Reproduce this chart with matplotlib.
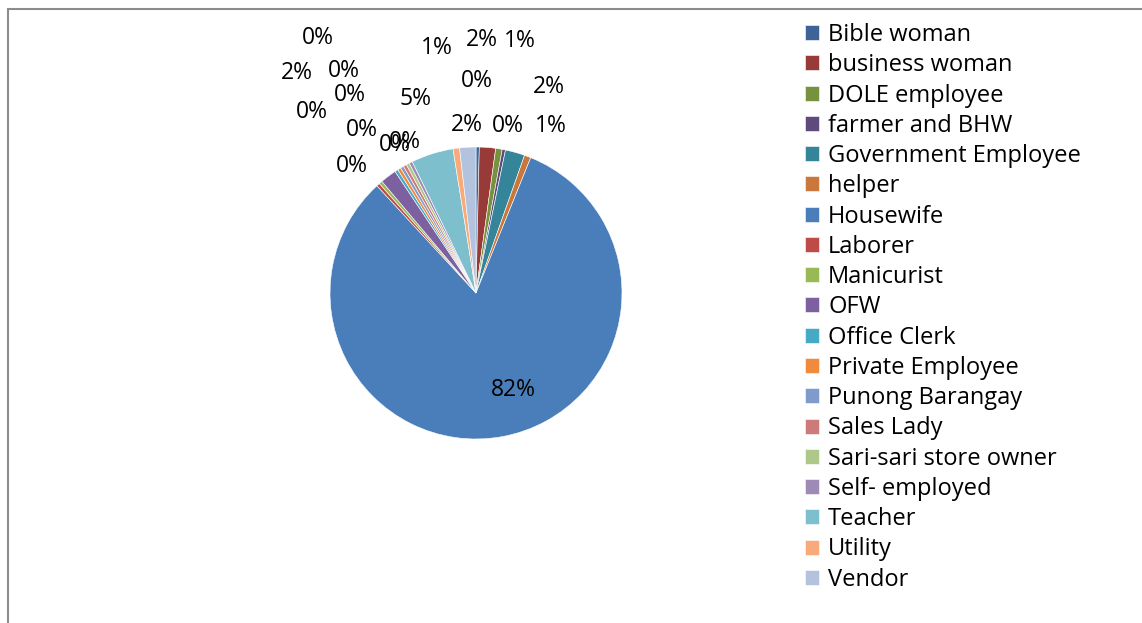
import matplotlib.pyplot as plt
from matplotlib.patches import Rectangle

# occupation counts
occupations = [
    "Bible woman", "business woman", "DOLE employee", "farmer and BHW",
    "Government Employee", "helper", "Housewife", "Laborer", "Manicurist",
    "OFW", "Office Clerk", "Private Employee", "Punong Barangay",
    "Sales Lady", "Sari-sari store owner", "Self- employed", "Teacher",
    "Utility", "Vendor",
]
counts = [1, 5, 2, 1, 6, 2, 228, 1, 1, 5, 1, 1, 1, 1, 1, 1, 13, 2, 5]

colors = [
    "#3E6497", "#983A38", "#77923F", "#5F4A7C", "#35859A", "#C9773A",
    "#4A7EBB", "#BE4B48", "#98B954", "#7D60A0", "#46AAC5", "#F08A3C",
    "#7F9BCC", "#CC7B7A", "#ADC888", "#9D8AB7", "#7EBFCE", "#F9AA7A",
    "#B3C3DE",
]

# where Excel dropped each percentage label (pie radius = 1)
label_xy = [
    (0.007, 1.452), (0.041, 1.733), (0.301, 1.726), (0.219, 1.144),
    (0.500, 1.411), (0.514, 1.144), (0.253, -0.664), (-0.849, 0.870),
    (-0.781, 1.116), (-1.226, 1.507), (-1.123, 1.240), (-0.863, 1.356),
    (-0.904, 1.521), (-1.082, 1.747), (-0.555, 1.014), (-0.486, 1.034),
    (-0.411, 1.329), (-0.267, 1.678), (-0.062, 1.151),
]

W, H = 1142, 623
CX, CY, R = 476, 293, 146
FONT = "Open Sans"

fig = plt.figure(figsize=(W / 100, H / 100), dpi=100)
ax = fig.add_axes([0, 0, 1, 1])

wedges, _ = ax.pie(counts, colors=colors, startangle=90, counterclock=False,
                   radius=1, wedgeprops=dict(edgecolor="white", linewidth=0.4))
ax.set_aspect("auto")
ax.set_xlim(-CX / R, (W - CX) / R)
ax.set_ylim(-(H - CY) / R, CY / R)
ax.axis("off")

total = sum(counts)
for c, (x, y) in zip(counts, label_xy):
    ax.text(x, y, f"{round(100 * c / total):.0f}%", ha="center", va="center",
            fontsize=16.5, family=FONT, color="black")

leg = fig.legend(wedges, occupations, loc="upper left",
                 bbox_to_anchor=(805 / W, 1 - 23 / H), frameon=False,
                 prop=dict(family=FONT, size=17), handlelength=0.6,
                 handleheight=0.6, handletextpad=0.38, labelspacing=0.265,
                 borderaxespad=0, borderpad=0)

# chart-area border (right and bottom run off the image)
fig.add_artist(Rectangle((8 / W, -0.05), 1.05, 1.05 - 9 / H, transform=fig.transFigure,
                         fill=False, edgecolor="#8C8C8C", linewidth=1.5))

fig.savefig("out.png", dpi=100)
